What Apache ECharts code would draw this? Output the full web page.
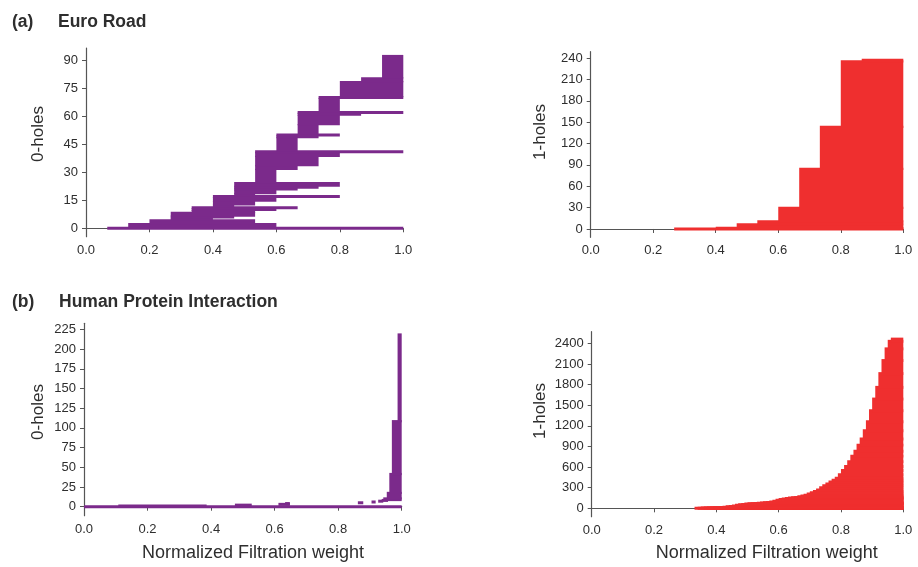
<!DOCTYPE html>
<html>
<head>
<meta charset="utf-8">
<script src="https://cdn.jsdelivr.net/npm/echarts@6/dist/echarts.min.js"></script>
<style>
  html, body { margin: 0; padding: 0; background: #fff; }
  #chart { width: 918px; height: 567px; }
</style>
</head>
<body>
<div id="chart"></div>
<script>
// Persistence barcodes: each group = bars sharing a birth and a death weight,
// stacked one row per bar in order of birth.

// (a) Euro Road, 0-holes
const euroH0Births = [0.067, 0.133, 0.2, 0.267, 0.267, 0.267, 0.333, 0.333, 0.333,
  0.4, 0.4, 0.4, 0.4, 0.467, 0.467, 0.467, 0.467, 0.467,
  0.533, 0.533, 0.533, 0.533, 0.533, 0.6, 0.6, 0.6,
  0.667, 0.667, 0.667, 0.667, 0.733, 0.733, 0.8, 0.867, 0.933];
const euroH0Deaths = [1.0, 0.6, 0.533, 0.4, 0.467, 0.533, 0.533, 0.6, 0.667,
  0.467, 0.533, 0.6, 0.8, 0.533, 0.6, 0.667, 0.733, 0.8,
  0.6, 0.667, 0.733, 0.8, 1.0, 0.667, 0.733, 0.8,
  0.733, 0.8, 0.867, 1.0, 0.8, 1.0, 1.0, 1.0, 1.0];
const euroH0Counts = [1, 2, 2, 1, 1, 2, 1, 1, 1,
  1, 2, 2, 1, 1, 2, 1, 1, 2,
  7, 2, 5, 2, 1, 7, 1, 1,
  5, 5, 1, 1, 7, 1, 8, 2, 12];

// (a) Euro Road, 1-holes
const euroH1Births = [0.267, 0.4, 0.467, 0.533, 0.6, 0.667, 0.733, 0.8, 0.867];
const euroH1Death = 1.0;
const euroH1Counts = [1, 1, 5, 4, 19, 55, 59, 92, 2];

// (b) Human Protein Interaction, 0-holes
const hpiH0Births = [0.0, 0.108, 0.475, 0.612, 0.633, 0.862, 0.905, 0.926, 0.937,
  0.942, 0.953, 0.961, 0.969, 0.987];
const hpiH0Deaths = [1.0, 0.386, 0.528, 0.648, 0.648, 0.879, 0.918, 0.942, 0.957,
  1.0, 1.0, 1.0, 1.0, 1.0];
const hpiH0Counts = [1, 1, 1, 1, 1, 1, 1, 1, 1, 2, 7, 24, 67, 110];

// (b) Human Protein Interaction, 1-holes
const hpiH1Births = [0.33, 0.34, 0.35, 0.36, 0.37, 0.38, 0.39, 0.40, 0.41, 0.42,
  0.43, 0.44, 0.45, 0.46, 0.47, 0.48, 0.49, 0.50, 0.51, 0.52,
  0.53, 0.54, 0.55, 0.56, 0.57, 0.58, 0.59, 0.60, 0.61, 0.62,
  0.63, 0.64, 0.65, 0.66, 0.67, 0.68, 0.69, 0.70, 0.71, 0.72,
  0.73, 0.74, 0.75, 0.76, 0.77, 0.78, 0.79, 0.80, 0.81, 0.82,
  0.83, 0.84, 0.85, 0.86, 0.87, 0.88, 0.89, 0.90, 0.91, 0.92,
  0.93, 0.94, 0.95, 0.96];
const hpiH1Death = 1.0;
const hpiH1Counts = [2, 1, 1, 1, 1, 1, 1, 2, 3, 4,
  5, 6, 8, 9, 7, 6, 4, 4, 3, 3,
  3, 3, 4, 4, 6, 12, 14, 12, 7, 7,
  6, 5, 5, 8, 12, 12, 16, 20, 17, 23,
  32, 30, 25, 30, 25, 30, 50, 60, 60, 70,
  80, 70, 90, 90, 120, 130, 160, 170, 170, 200,
  190, 170, 110, 32];

// Tick labels
const xTicks = [0, 0.2, 0.4, 0.6, 0.8, 1.0];
const euroH0Ticks = [0, 15, 30, 45, 60, 75, 90];
const euroH1Ticks = [0, 30, 60, 90, 120, 150, 180, 210, 240];
const hpiH0Ticks = [0, 25, 50, 75, 100, 125, 150, 175, 200, 225];
const hpiH1Ticks = [0, 300, 600, 900, 1200, 1500, 1800, 2100, 2400];

const FONT = '"Liberation Sans", Arial, Helvetica, sans-serif';
const PURPLE = '#7b2a8b';
const RED = '#ef2f2f';
const AXIS_GREY = '#555555';
const TEXT = '#2e2e2e';

// [birth, death, firstRow, lastRow] for every group
function stackRows(births, deaths, counts) {
  let row = 0;
  return births.map((b, i) => {
    const d = Array.isArray(deaths) ? deaths[i] : deaths;
    const item = [b, d, row, row + counts[i] - 1];
    row += counts[i];
    return item;
  });
}

// Each bar is stroked about 3px thick, so a group's block is padded by half of that.
function barRenderer(color, pad) {
  return function (params, api) {
    const lo = api.coord([api.value(0), api.value(2)]);
    const hi = api.coord([api.value(1), api.value(3)]);
    return {
      type: 'rect',
      shape: { x: lo[0], y: hi[1] - pad, width: hi[0] - lo[0], height: lo[1] - hi[1] + 2 * pad },
      style: { fill: color }
    };
  };
}

const grids = [
  { left: 86, top: 48, width: 317.3, height: 188.7 },
  { left: 590.7, top: 51.7, width: 312.6, height: 185.6 },
  { left: 84, top: 323.3, width: 317.7, height: 192.4 },
  { left: 591.7, top: 331.7, width: 311.6, height: 185 }
];

function xAxisFor(i) {
  return {
    type: 'value', gridIndex: i, min: 0, max: 1, interval: 0.2,
    axisLine: { show: true, lineStyle: { color: AXIS_GREY, width: 1.2 } },
    axisTick: { show: true, length: 4, customValues: xTicks, lineStyle: { color: AXIS_GREY } },
    splitLine: { show: false },
    axisLabel: {
      color: TEXT, fontFamily: FONT, fontSize: 13, margin: 7,
      customValues: xTicks,
      formatter: v => Number(v).toFixed(1)
    }
  };
}

function yAxisFor(i, min, max, ticks) {
  return {
    type: 'value', gridIndex: i, min: min, max: max,
    axisLine: { show: true, lineStyle: { color: AXIS_GREY, width: 1.2 } },
    axisTick: { show: true, length: 4, customValues: ticks, lineStyle: { color: AXIS_GREY } },
    splitLine: { show: false },
    axisLabel: {
      color: TEXT, fontFamily: FONT, fontSize: 13, margin: 8,
      customValues: ticks,
      formatter: v => String(Math.round(v))
    }
  };
}

function barSeries(i, data, color) {
  return {
    type: 'custom', xAxisIndex: i, yAxisIndex: i,
    renderItem: barRenderer(color, 1.5),
    encode: { x: [0, 1], y: [2, 3] },
    data: data,
    silent: true
  };
}

function label(text, x, y, size, opts) {
  return Object.assign({
    type: 'text', x: x, y: y,
    style: {
      text: text, fill: TEXT, font: (opts && opts.bold ? 'bold ' : '') + size + 'px ' + FONT,
      align: (opts && opts.align) || 'left', verticalAlign: 'middle'
    }
  }, opts && opts.rotation ? { rotation: opts.rotation } : {});
}

const chart = echarts.init(document.getElementById('chart'), null, { renderer: 'canvas' });
chart.setOption({
  animation: false,
  backgroundColor: '#ffffff',
  grid: grids,
  xAxis: [0, 1, 2, 3].map(xAxisFor),
  yAxis: [
    yAxisFor(0, -4.5, 96.5, euroH0Ticks),
    yAxisFor(1, -11.7, 249, euroH1Ticks),
    yAxisFor(2, -11.4, 232.7, hpiH0Ticks),
    yAxisFor(3, -122, 2569, hpiH1Ticks)
  ],
  series: [
    barSeries(0, stackRows(euroH0Births, euroH0Deaths, euroH0Counts), PURPLE),
    barSeries(1, stackRows(euroH1Births, euroH1Death, euroH1Counts), RED),
    barSeries(2, stackRows(hpiH0Births, hpiH0Deaths, hpiH0Counts), PURPLE),
    barSeries(3, stackRows(hpiH1Births, hpiH1Death, hpiH1Counts), RED)
  ],
  graphic: [
    label('(a)', 12, 22, 17.5, { bold: true }),
    label('Euro Road', 58, 22, 17.5, { bold: true }),
    label('(b)', 12, 302, 17.5, { bold: true }),
    label('Human Protein Interaction', 59, 302, 17.5, { bold: true }),
    label('0-holes', 38, 134, 17, { align: 'center', rotation: Math.PI / 2 }),
    label('1-holes', 540, 132, 17, { align: 'center', rotation: Math.PI / 2 }),
    label('0-holes', 38, 412, 17, { align: 'center', rotation: Math.PI / 2 }),
    label('1-holes', 540, 411, 17, { align: 'center', rotation: Math.PI / 2 }),
    label('Normalized Filtration weight', 253, 553, 18, { align: 'center' }),
    label('Normalized Filtration weight', 766.7, 553, 18, { align: 'center' })
  ]
});
</script>
</body>
</html>
